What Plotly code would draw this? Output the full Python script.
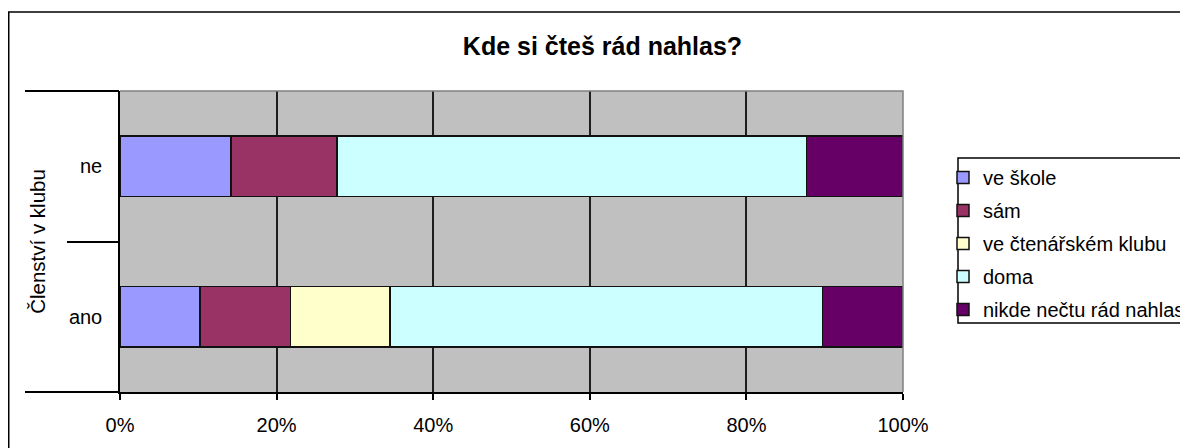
import plotly.graph_objects as go

# ---- data ----
categories = ["ano", "ne"]            # bottom to top
series_names = ["ve škole", "sám", "ve čtenářském klubu", "doma", "nikde nečtu rád nahlas"]
ve_skole = [10.2, 14.2]
sam = [11.6, 13.5]
ve_ctenarskem_klubu = [12.7, 0.0]
doma = [55.2, 60.0]
nikde = [10.3, 12.3]
series_values = [ve_skole, sam, ve_ctenarskem_klubu, doma, nikde]
x_tick_values = [0, 20, 40, 60, 80, 100]
x_tick_labels = ["0%", "20%", "40%", "60%", "80%", "100%"]
title_text = "Kde si čteš rád nahlas?"
y_title = "Členství v klubu"

colors = ["#9999FF", "#993366", "#FFFFCC", "#CCFFFF", "#660066"]
FONT = "Liberation Sans, Arial, sans-serif"

# figure geometry (page has an 8px body margin)
W, H = 1180, 440
L, R, T, B = 112, 285, 83, 56
PW, PH = W - L - R, H - T - B   # 783 x 301

def px(xp):   # figure-pixel x -> paper
    return (xp - L) / PW

def py(yp):   # figure-pixel y -> paper
    return (H - B - yp) / PH

fig = go.Figure()
for i, (name, vals) in enumerate(zip(series_names, series_values)):
    fig.add_trace(go.Bar(
        y=categories, x=vals, name=name, orientation="h",
        marker=dict(color=colors[i], line=dict(color="#111111", width=1.5)),
        legendgroup=name,
    ))

# helper traces for the boundary tick axes
fig.add_trace(go.Scatter(x=[None], y=[None], yaxis="y2", showlegend=False,
                         hoverinfo="skip", mode="markers"))
fig.add_trace(go.Scatter(x=[None], y=[None], yaxis="y3", showlegend=False,
                         hoverinfo="skip", mode="markers"))

n = len(categories)
outer_bounds = [-0.5, n - 0.5]
inner_bounds = [i + 0.5 for i in range(n - 1)]
yr = [-0.5, n - 0.5]

fig.update_layout(
    width=W, height=H,
    margin=dict(l=L, r=R, t=T, b=B, autoexpand=False),
    paper_bgcolor="white",
    plot_bgcolor="#C0C0C0",
    barmode="stack",
    bargap=0.6,
    font=dict(family=FONT, size=20, color="black"),
    title=dict(text="<b>" + title_text + "</b>", font=dict(size=25, family=FONT),
               x=(602.5 - 8) / W, xref="container", xanchor="center",
               y=1 - 38 / H, yref="container", yanchor="middle"),
    xaxis=dict(range=[0, 100], tickvals=x_tick_values, ticktext=x_tick_labels,
               showgrid=True, gridcolor="#1e1e1e", gridwidth=2,
               showline=True, linecolor="black", linewidth=1.5,
               ticks="outside", ticklen=6, tickwidth=1.5, tickcolor="black",
               ticklabelstandoff=8, zeroline=False,
               tickfont=dict(size=20)),
    yaxis=dict(type="category", categoryorder="array", categoryarray=categories,
               range=yr,
               showline=True, linecolor="black", linewidth=1.5,
               ticks="", showgrid=False, ticklabelstandoff=12,
               tickfont=dict(size=20),
               title=dict(text=y_title, font=dict(size=20.5), standoff=18)),
    yaxis2=dict(overlaying="y", side="left", range=yr,
                tickvals=outer_bounds, ticks="outside", ticklen=94, tickwidth=1.5,
                tickcolor="black", showticklabels=False, showgrid=False,
                zeroline=False, showline=False),
    yaxis3=dict(overlaying="y", side="left", range=yr,
                tickvals=inner_bounds, ticks="outside", ticklen=52, tickwidth=1.5,
                tickcolor="black", showticklabels=False, showgrid=False,
                zeroline=False, showline=False),
    legend=dict(x=px(935), xanchor="left", y=py(150), yanchor="top",
                borderwidth=0, bgcolor="rgba(0,0,0,0)",
                font=dict(size=20), traceorder="grouped", tracegroupgap=4,
                itemwidth=30),
    showlegend=True,
)

# plot area top/right border (grey)
fig.add_shape(type="path", xref="paper", yref="paper",
              path="M 0 1 L 1 1 L 1 0", line=dict(color="#808080", width=1.5), layer="above")
# outer chart border
fig.add_shape(type="rect", xref="paper", yref="paper",
              x0=px(0.75), x1=px(W + 20), y0=py(H + 20), y1=py(4),
              line=dict(color="black", width=1.5), fillcolor="rgba(0,0,0,0)", layer="below")
# legend frame
fig.add_shape(type="rect", xref="paper", yref="paper",
              x0=px(950), x1=px(W + 20), y0=py(315), y1=py(150),
              line=dict(color="black", width=1.5), fillcolor="white", layer="below")

fig.write_html("out.html")
